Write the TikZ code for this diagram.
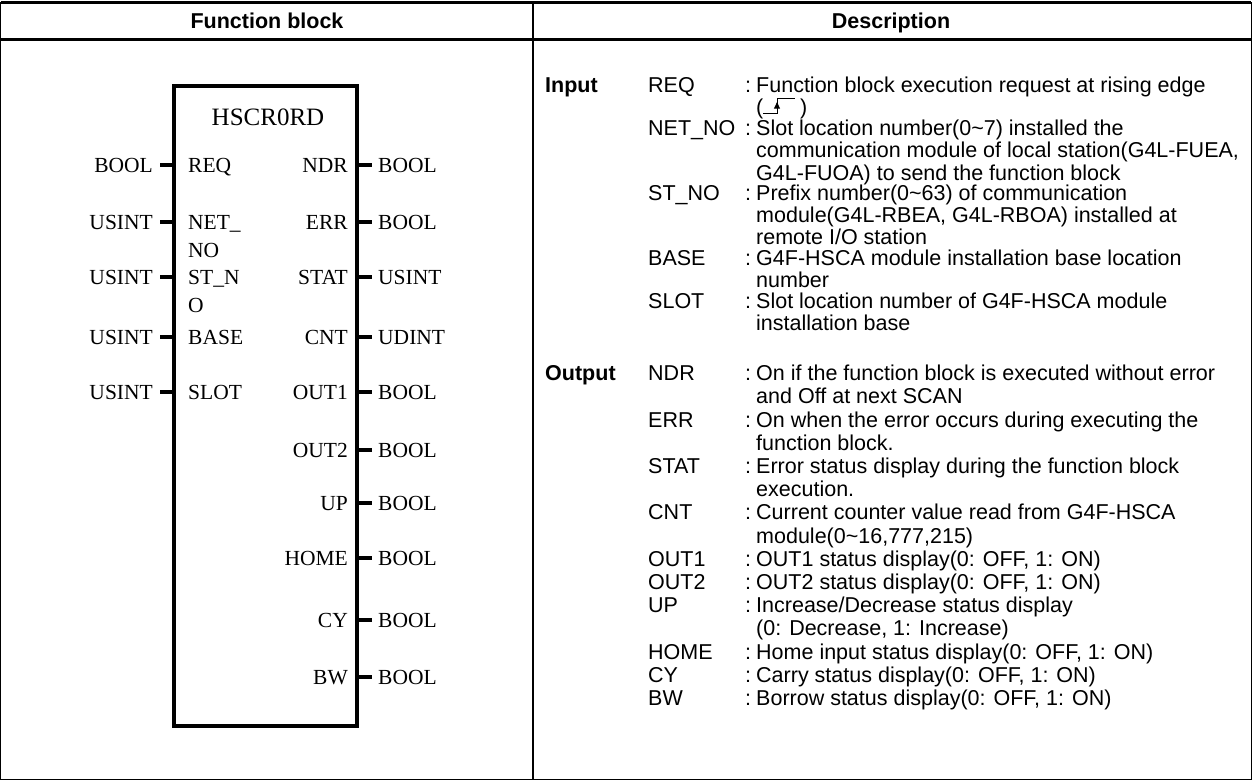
\documentclass[tikz,border=0pt]{standalone}
\usepackage{fontspec}
\setmainfont{Liberation Sans}
\newfontfamily\fbserif{Liberation Serif}
\usetikzlibrary{arrows.meta,calc}
\newcommand{\dlines}[1]{\begin{tabular}[t]{@{}l@{}}#1\end{tabular}}
\begin{document}
\begin{tikzpicture}[x=1pt,y=-1pt,
  descI/.style={anchor=base west, inner sep=0pt, font=\fontsize{21.5}{21.6}\selectfont},
  descO/.style={anchor=base west, inner sep=0pt, font=\fontsize{21.5}{23.2}\selectfont},
  lbl/.style={anchor=base west, inner sep=0pt, font=\fontsize{21.5}{22.8}\selectfont},
  sect/.style={anchor=base west, inner sep=0pt, font=\fontsize{21.5}{22.8}\selectfont\bfseries},
  hdr/.style={anchor=base, inner sep=0pt, font=\fontsize{21.5}{24}\selectfont\bfseries},
  pinL/.style={anchor=base west, inner sep=0pt, font=\fbserif\fontsize{21.5}{24}\selectfont},
  pinR/.style={anchor=base east, inner sep=0pt, font=\fbserif\fontsize{21.5}{24}\selectfont},
  typL/.style={anchor=base east, inner sep=0pt, font=\fbserif\fontsize{21.5}{24}\selectfont},
  typR/.style={anchor=base west, inner sep=0pt, font=\fbserif\fontsize{21.5}{24}\selectfont},
  tick/.style={line width=4pt},
  frame/.style={line width=1.2pt},
  thick rule/.style={line width=3pt}]
\useasboundingbox (0,0) rectangle (1252,781);
% table frame
\coordinate (tl) at (0.6,2.5);
\coordinate (tr) at (1251.4,2.5);
\coordinate (hl) at (0.6,40);
\coordinate (hr) at (1251.4,40);
\coordinate (bl) at (0.6,779.8);
\coordinate (br) at (1251.4,779.8);
\coordinate (mt) at (533,2.5);
\coordinate (mb) at (533,779.8);
\draw[frame] (tl) -- (bl) -- (br) -- (tr);
\draw[frame] (mt) -- (mb);
\draw[thick rule] (tl) -- (tr);
\draw[thick rule] (hl) -- (hr);
% headers
\node[hdr] (h1) at (267,29) {Function block};
\node[hdr] (h2) at (891,29) {Description};
% function block
\node[draw, line width=4pt, minimum width=183pt, minimum height=640pt, inner sep=0pt] (fb) at (265.5,406) {};
\node[anchor=base, inner sep=0pt, font=\fbserif\fontsize{25}{28}\selectfont] (title) at (268,125.5) {HSCR0RD};
% left pins
\foreach \yy/\nm/\ty in {165/a1/BOOL,222/a2/USINT,277/a3/USINT,337/a4/USINT,392/a5/USINT}{
  \coordinate (\nm) at (174,\yy);
  \draw[tick] (\nm) -- ++(-14,0);
  \node[typL] (t\nm) at (153,\yy+7.1) {\ty};
}
\node[pinL] (pREQ) at (188,172.1) {REQ};
\node[pinL] (pNET) at (188,229.1) {NET\_};
\node[pinL] (pNET2) at (188,257.1) {NO};
\node[pinL] (pST) at (188,284.1) {ST\_N};
\node[pinL] (pST2) at (188,312.1) {O};
\node[pinL] (pBASE) at (188,344.1) {BASE};
\node[pinL] (pSLOT) at (188,399.1) {SLOT};
% right pins
\foreach \yy/\nm/\pn/\ty in {165/b1/NDR/BOOL,222/b2/ERR/BOOL,277/b3/STAT/USINT,337/b4/CNT/UDINT,392/b5/OUT1/BOOL,450/b6/OUT2/BOOL,503/b7/UP/BOOL,558/b8/HOME/BOOL,620/b9/CY/BOOL,677/b10/BW/BOOL}{
  \coordinate (\nm) at (357,\yy);
  \draw[tick] (\nm) -- ++(15,0);
  \node[pinR] (p\nm) at (348,\yy+7.1) {\pn};
  \node[typR] (t\nm) at (378,\yy+7.1) {\ty};
}
% description - input
\node[sect] (inp) at (545,92.7) {Input};
\node[lbl] (lREQ) at (648,92.7) {REQ};
\node[lbl] (cREQ) at (745,92.7) {:};
\node[descI] (dREQ) at (756,92.7) {Function block execution request at rising edge};
\node[lbl] (po) at (756,114.3) {(};
\node[lbl] (pc) at (800,114.3) {)};
\coordinate (e1) at (763,113);
\coordinate (e2) at (777,113);
\coordinate (e3) at (777,98.5);
\coordinate (e4) at (795,98.5);
\draw[line width=0.9pt] (e1) -- (e2) -- (e3) -- (e4);
\draw[line width=0.9pt, -{Triangle[length=6.5pt,width=6pt]}] (e2) -- ($(e2)!0.75!(e3)$);
\node[lbl] (lNET) at (648,135.9) {NET\_NO};
\node[lbl] (cNET) at (745,135.9) {:};
\node[descI] (dNET) at (756,135.9) {\dlines{Slot location number(0\textasciitilde 7) installed the\\communication module of local station(G4L-FUEA,\\G4L-FUOA) to send the function block}};
\node[lbl] (lST) at (648,200.7) {ST\_NO};
\node[lbl] (cST) at (745,200.7) {:};
\node[descI] (dST) at (756,200.7) {\dlines{Prefix number(0\textasciitilde 63) of communication\\module(G4L-RBEA, G4L-RBOA) installed at\\remote I/O station}};
\node[lbl] (lBASE) at (648,265.5) {BASE};
\node[lbl] (cBASE) at (745,265.5) {:};
\node[descI] (dBASE) at (756,265.5) {\dlines{G4F-HSCA module installation base location\\number}};
\node[lbl] (lSLOT) at (648,308.7) {SLOT};
\node[lbl] (cSLOT) at (745,308.7) {:};
\node[descI] (dSLOT) at (756,308.7) {\dlines{Slot location number of G4F-HSCA module\\installation base}};
% description - output
\node[sect] (outp) at (545,380.7) {Output};
\foreach \yy/\nm/\lb/\tx in {
  380.7/o1/NDR/{On if the function block is executed without error\\and Off at next SCAN},
  427.1/o2/ERR/{On when the error occurs during executing the\\function block.},
  473.5/o3/STAT/{Error status display during the function block\\execution.},
  519.9/o4/CNT/{Current counter value read from G4F-HSCA\\module(0\textasciitilde 16,777,215)},
  566.3/o5/OUT1/{OUT1 status display(0: OFF, 1: ON)},
  589.5/o6/OUT2/{OUT2 status display(0: OFF, 1: ON)},
  612.7/o7/UP/{Increase/Decrease status display\\(0: Decrease, 1: Increase)},
  659.1/o8/HOME/{Home input status display(0: OFF, 1: ON)},
  682.3/o9/CY/{Carry status display(0: OFF, 1: ON)},
  705.5/o10/BW/{Borrow status display(0: OFF, 1: ON)}}{
  \node[lbl] (l\nm) at (648,\yy) {\lb};
  \node[lbl] (c\nm) at (745,\yy) {:};
  \node[descO] (d\nm) at (756,\yy) {\dlines{\tx}};
}
\end{tikzpicture}
\end{document}
